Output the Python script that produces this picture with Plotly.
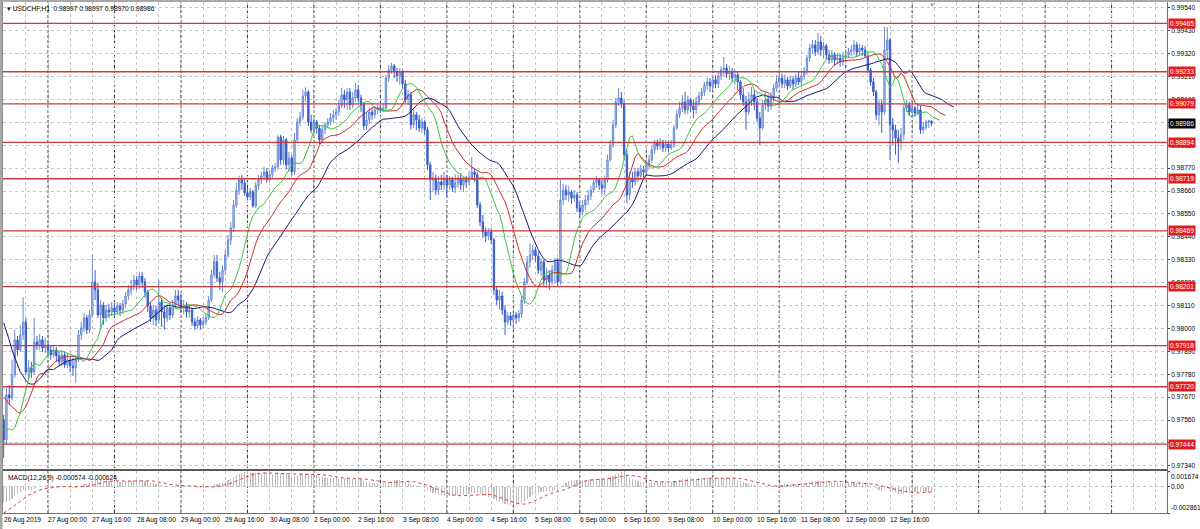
import plotly.graph_objects as go

SCALE = 1e5  # prices below are stored in points (1e-5)

# ---------------- time axis ----------------
x_label_bars = [0, 16, 32, 48, 64, 80, 96, 112, 128, 144, 160, 176, 192, 208, 224, 240, 256, 272, 288, 304, 320]
x_labels = ["26 Aug 2019", "27 Aug 00:00", "27 Aug 16:00", "28 Aug 08:00", "29 Aug 00:00", "29 Aug 16:00",
            "30 Aug 08:00", "2 Sep 00:00", "2 Sep 16:00", "3 Sep 08:00", "4 Sep 00:00", "4 Sep 16:00",
            "5 Sep 08:00", "6 Sep 00:00", "6 Sep 16:00", "9 Sep 08:00", "10 Sep 00:00", "10 Sep 16:00",
            "11 Sep 08:00", "12 Sep 00:00", "12 Sep 16:00"]
day_start_bars = [16, 40, 64, 88, 112, 136, 160, 184, 208, 232, 256, 280, 304, 328, 352, 376, 400]

# ---------------- price axis ----------------
price_ticks = [0.97340, 0.97450, 0.97560, 0.97670, 0.97780, 0.97890, 0.98000, 0.98110, 0.98220, 0.98330,
               0.98440, 0.98550, 0.98660, 0.98770, 0.98880, 0.98990, 0.99100, 0.99210, 0.99320, 0.99430, 0.99540]
level_lines = [0.99465, 0.99233, 0.99079, 0.98894, 0.98719, 0.98469, 0.98201, 0.97918, 0.97720, 0.97444]
current_price = 0.98986
macd_ticks = [-0.002861, 0.0, 0.001674]
macd_tick_text = ["-0.002861", "0.00", "0.001674"]

# ---------------- USDCHF H1 OHLC (points) ----------------
opens_pts = [
    97561, 97465, 97681, 97666, 97777, 97945, 97897, 97969, 98031, 97791, 97811, 97791, 97935, 97921, 97945, 97907,
    97921, 97897, 97873, 97897, 97868, 97839, 97873, 97825, 97849, 97820, 97811, 97849, 97969, 98003, 98051, 97993, 98065, 98224, 98185, 98065, 98113, 98051, 98089, 98079,
    98099, 98079, 98108, 98089, 98118, 98156, 98185, 98204, 98233, 98209, 98252, 98224, 98175, 98108, 98051, 98089, 98041, 98127, 98079, 98051, 98099, 98065, 98113, 98156,
    98137, 98099, 98113, 98079, 98089, 98031, 98012, 98041, 98017, 98031, 98051, 98137, 98257, 98320, 98243, 98224, 98281, 98353, 98425, 98483, 98593, 98665, 98714, 98699,
    98651, 98632, 98656, 98589, 98685, 98714, 98733, 98752, 98714, 98738, 98771, 98776, 98920, 98810, 98906, 98786, 98819, 98752, 98906, 98992, 99016, 99117, 99136, 98992,
    98954, 98992, 98963, 98906, 98954, 98978, 98992, 99011, 99026, 99040, 99069, 99122, 99098, 99136, 99074, 99107, 99146, 99107, 99074, 98973, 99002, 99040, 99026, 99050,
    99059, 99050, 99059, 99203, 99242, 99261, 99232, 99213, 99232, 99175, 99098, 99122, 98978, 99026, 99002, 98963, 98992, 98954, 98786, 98714, 98723, 98665, 98704, 98689,
    98723, 98689, 98714, 98675, 98699, 98723, 98689, 98714, 98704, 98723, 98752, 98738, 98593, 98512, 98464, 98444, 98464, 98425, 98185, 98137, 98156, 98089, 98031, 98060,
    98041, 98065, 98051, 98070, 98137, 98224, 98320, 98353, 98377, 98348, 98281, 98320, 98233, 98257, 98224, 98281, 98320, 98224, 98617, 98665, 98641, 98656, 98627, 98641,
    98579, 98560, 98593, 98617, 98637, 98665, 98699, 98714, 98689, 98675, 98714, 98810, 98882, 98978, 99088, 99107, 99079, 98834, 98641, 98723, 98704, 98752, 98733, 98762,
    98752, 98786, 98810, 98858, 98891, 98877, 98896, 98867, 98886, 98867, 98882, 98963, 99026, 99059, 99088, 99050, 99098, 99069, 99050, 99088, 99117, 99136, 99170, 99184,
    99165, 99194, 99175, 99213, 99242, 99251, 99223, 99232, 99203, 99218, 99184, 99122, 99088, 99040, 99098, 99122, 99088, 99011, 98963, 99074, 99098, 99069, 99107, 99155,
    99184, 99203, 99175, 99194, 99165, 99194, 99175, 99203, 99184, 99213, 99232, 99299, 99347, 99362, 99328, 99376, 99338, 99357, 99314, 99290, 99314, 99290, 99299, 99280,
    99299, 99314, 99328, 99338, 99362, 99328, 99347, 99338, 99309, 99242, 99184, 99136, 99026, 99074, 99040, 99338, 99386, 98978, 98954, 98915, 98896, 98930, 99059, 99074,
    99040, 99059, 99035, 99050, 98954, 98968, 98992, 98997,
]
highs_pts = [
    97585, 97714, 97729, 97849, 97993, 97964, 98017, 98151, 98051, 97849, 97839, 98051, 97964, 97974, 97964, 97955,
    97935, 97916, 97921, 97911, 97887, 97897, 97887, 97878, 97868, 97859, 97873, 97993, 98031, 98075, 98065, 98089, 98353, 98281, 98219, 98137, 98127, 98113, 98118, 98127,
    98123, 98127, 98123, 98137, 98175, 98209, 98233, 98257, 98252, 98272, 98272, 98243, 98185, 98127, 98113, 98108, 98233, 98147, 98113, 98118, 98123, 98137, 98185, 98185,
    98166, 98137, 98127, 98113, 98099, 98051, 98060, 98051, 98055, 98070, 98156, 98281, 98353, 98353, 98272, 98305, 98377, 98449, 98512, 98617, 98699, 98733, 98738, 98723,
    98675, 98675, 98665, 98704, 98738, 98752, 98776, 98771, 98762, 98786, 98795, 98930, 98930, 98925, 98915, 98848, 98834, 98939, 99011, 99040, 99146, 99160, 99146, 99026,
    99011, 99002, 98978, 98973, 98992, 99011, 99035, 99050, 99059, 99098, 99155, 99146, 99155, 99155, 99136, 99179, 99170, 99122, 99088, 99040, 99059, 99059, 99069, 99074,
    99074, 99079, 99218, 99266, 99275, 99271, 99251, 99251, 99242, 99194, 99146, 99136, 99050, 99040, 99026, 99011, 99002, 98968, 98800, 98752, 98738, 98733, 98738, 98752,
    98738, 98733, 98728, 98742, 98738, 98747, 98728, 98733, 98752, 98824, 98771, 98752, 98608, 98545, 98483, 98483, 98483, 98435, 98204, 98185, 98175, 98113, 98079, 98079,
    98079, 98079, 98089, 98156, 98243, 98348, 98411, 98401, 98392, 98368, 98339, 98329, 98291, 98281, 98305, 98339, 98339, 98714, 98694, 98689, 98685, 98665, 98665, 98656,
    98608, 98617, 98641, 98665, 98685, 98714, 98733, 98723, 98714, 98733, 98834, 98906, 99002, 99107, 99155, 99136, 99098, 98858, 98752, 98752, 98771, 98771, 98786, 98781,
    98810, 98834, 98877, 98906, 98906, 98915, 98906, 98906, 98901, 98906, 98978, 99050, 99088, 99122, 99136, 99117, 99107, 99098, 99112, 99136, 99155, 99184, 99203, 99203,
    99213, 99218, 99232, 99261, 99304, 99271, 99261, 99251, 99242, 99232, 99194, 99155, 99117, 99136, 99160, 99146, 99107, 99040, 99098, 99131, 99122, 99136, 99175, 99218,
    99232, 99223, 99218, 99208, 99213, 99213, 99223, 99232, 99232, 99256, 99314, 99367, 99386, 99386, 99420, 99405, 99376, 99367, 99338, 99338, 99328, 99323, 99319, 99328,
    99338, 99347, 99362, 99386, 99376, 99367, 99362, 99357, 99319, 99251, 99203, 99146, 99098, 99098, 99448, 99448, 99395, 99011, 98978, 98954, 98963, 99079, 99098, 99088,
    99079, 99069, 99079, 99069, 98992, 99002, 99002, 98997,
]
lows_pts = [
    97378, 97441, 97633, 97657, 97763, 97868, 97887, 97945, 97777, 97753, 97763, 97782, 97897, 97897, 97887, 97883,
    97868, 97849, 97859, 97839, 97820, 97820, 97811, 97811, 97791, 97772, 97739, 97839, 97945, 97983, 97974, 97979, 98051, 98137, 98051, 98003, 98017, 98031, 98051, 98060,
    98055, 98065, 98060, 98070, 98099, 98137, 98161, 98185, 98185, 98190, 98195, 98147, 98079, 98031, 98017, 98012, 98022, 98007, 97993, 98031, 98041, 98051, 98099, 98113,
    98079, 98070, 98051, 98051, 98012, 97993, 98003, 97993, 98003, 98017, 98041, 98127, 98243, 98224, 98185, 98175, 98257, 98339, 98401, 98464, 98579, 98641, 98665, 98637,
    98617, 98617, 98579, 98579, 98665, 98694, 98714, 98699, 98704, 98723, 98752, 98762, 98786, 98786, 98762, 98752, 98733, 98738, 98891, 98973, 99002, 99088, 98973, 98939,
    98930, 98934, 98886, 98896, 98934, 98963, 98978, 98992, 99002, 99021, 99059, 99059, 99050, 99050, 99059, 99088, 99083, 99040, 98954, 98954, 98982, 99002, 99011, 99030,
    99035, 99040, 99050, 99184, 99223, 99203, 99184, 99170, 99155, 99083, 99074, 98954, 98963, 98954, 98944, 98939, 98930, 98762, 98617, 98656, 98641, 98641, 98665, 98665,
    98632, 98665, 98656, 98651, 98675, 98665, 98656, 98675, 98685, 98714, 98704, 98579, 98492, 98435, 98416, 98425, 98406, 98161, 98113, 98089, 98065, 97969, 98017, 98012,
    97993, 98022, 98031, 98051, 98118, 98209, 98291, 98329, 98320, 98262, 98252, 98204, 98195, 98185, 98209, 98214, 98200, 98209, 98593, 98617, 98608, 98598, 98608, 98560,
    98545, 98545, 98569, 98593, 98617, 98651, 98675, 98665, 98646, 98641, 98699, 98800, 98867, 98963, 99069, 99059, 98810, 98603, 98617, 98675, 98685, 98704, 98714, 98723,
    98733, 98762, 98795, 98838, 98858, 98858, 98848, 98848, 98848, 98858, 98867, 98954, 99011, 99040, 99030, 99030, 99040, 99011, 99030, 99069, 99098, 99117, 99146, 99136,
    99146, 99155, 99155, 99194, 99213, 99203, 99194, 99184, 99170, 99146, 99098, 99069, 98954, 99026, 99069, 99050, 98992, 98882, 98954, 99050, 99040, 99050, 99088, 99136,
    99165, 99155, 99155, 99146, 99155, 99146, 99160, 99170, 99165, 99194, 99218, 99280, 99319, 99309, 99314, 99309, 99299, 99290, 99271, 99275, 99261, 99271, 99256, 99261,
    99280, 99299, 99309, 99314, 99304, 99314, 99309, 99299, 99227, 99165, 99117, 99002, 98978, 98939, 99026, 99290, 98810, 98882, 98834, 98795, 98858, 98906, 99040, 99021,
    99021, 99016, 99026, 98934, 98934, 98954, 98963, 98970,
]
closes_pts = [
    97465, 97681, 97666, 97777, 97945, 97897, 97969, 98031, 97791, 97811, 97791, 97935, 97921, 97945, 97907, 97921,
    97897, 97873, 97897, 97868, 97839, 97873, 97825, 97849, 97820, 97811, 97849, 97969, 98003, 98051, 97993, 98065, 98224, 98185, 98065, 98113, 98051, 98089, 98079, 98099,
    98079, 98108, 98089, 98118, 98156, 98185, 98204, 98233, 98209, 98252, 98224, 98175, 98108, 98051, 98089, 98041, 98127, 98079, 98051, 98099, 98065, 98113, 98156, 98137,
    98099, 98113, 98079, 98089, 98031, 98012, 98041, 98017, 98031, 98051, 98137, 98257, 98320, 98243, 98224, 98281, 98353, 98425, 98483, 98593, 98665, 98714, 98699, 98651,
    98632, 98656, 98589, 98685, 98714, 98733, 98752, 98714, 98738, 98771, 98776, 98920, 98810, 98906, 98786, 98819, 98752, 98906, 98992, 99016, 99117, 99136, 98992, 98954,
    98992, 98963, 98906, 98954, 98978, 98992, 99011, 99026, 99040, 99069, 99122, 99098, 99136, 99074, 99107, 99146, 99107, 99074, 98973, 99002, 99040, 99026, 99050, 99059,
    99050, 99059, 99203, 99242, 99261, 99232, 99213, 99232, 99175, 99098, 99122, 98978, 99026, 99002, 98963, 98992, 98954, 98786, 98714, 98723, 98665, 98704, 98689, 98723,
    98689, 98714, 98675, 98699, 98723, 98689, 98714, 98704, 98723, 98752, 98738, 98593, 98512, 98464, 98444, 98464, 98425, 98185, 98137, 98156, 98089, 98031, 98060, 98041,
    98065, 98051, 98070, 98137, 98224, 98320, 98353, 98377, 98348, 98281, 98320, 98233, 98257, 98224, 98281, 98320, 98224, 98617, 98665, 98641, 98656, 98627, 98641, 98579,
    98560, 98593, 98617, 98637, 98665, 98699, 98714, 98689, 98675, 98714, 98810, 98882, 98978, 99088, 99107, 99079, 98834, 98641, 98723, 98704, 98752, 98733, 98762, 98752,
    98786, 98810, 98858, 98891, 98877, 98896, 98867, 98886, 98867, 98882, 98963, 99026, 99059, 99088, 99050, 99098, 99069, 99050, 99088, 99117, 99136, 99170, 99184, 99165,
    99194, 99175, 99213, 99242, 99251, 99223, 99232, 99203, 99218, 99184, 99122, 99088, 99040, 99098, 99122, 99088, 99011, 98963, 99074, 99098, 99069, 99107, 99155, 99184,
    99203, 99175, 99194, 99165, 99194, 99175, 99203, 99184, 99213, 99232, 99299, 99347, 99362, 99328, 99376, 99338, 99357, 99314, 99290, 99314, 99290, 99299, 99280, 99299,
    99314, 99328, 99338, 99362, 99328, 99347, 99338, 99309, 99242, 99184, 99136, 99026, 99074, 99040, 99338, 99386, 98978, 98954, 98915, 98896, 98930, 99059, 99074, 99040,
    99059, 99035, 99050, 98954, 98968, 98992, 98997, 98986,
]

# Alligator values visible before the first bar's own calculation
jaw_pre_pts = [98027, 97988, 97945, 97897, 97859, 97825, 97791, 97772]
teeth_pre_pts = [97671, 97652, 97638, 97623, 97614]
lips_pre_pts = [97513, 97513, 97518]
# MACD state carried in from bars left of the visible window
ema12_seed = 0.97730
ema26_seed = 0.97900
macd_pre = [-0.00335, -0.00330, -0.00320, -0.00310, -0.00300, -0.00285, -0.00270, -0.00250]

n = len(closes_pts)
assert len(opens_pts) == n and len(highs_pts) == n and len(lows_pts) == n, (len(opens_pts), len(highs_pts), len(lows_pts), n)

bars = list(range(n))
O = [v / SCALE for v in opens_pts]
Hh = [v / SCALE for v in highs_pts]
L = [v / SCALE for v in lows_pts]
C = [v / SCALE for v in closes_pts]

# ---- Alligator (SMMA of median price, shifted) ----
median = [(h + l) / 2 for h, l in zip(Hh, L)]


def smma(pre_pts, period):
    vals = [p / SCALE for p in pre_pts]
    prev = vals[-1]
    for m in median:
        prev = (prev * (period - 1) + m) / period
        vals.append(prev)
    return vals


jaw = smma(jaw_pre_pts, 13)     # shift 8
teeth = smma(teeth_pre_pts, 8)  # shift 5
lips = smma(lips_pre_pts, 5)    # shift 3

# ---- MACD(12,26,9) ----


def ema(vals, period, seed):
    a = 2.0 / (period + 1)
    out, prev = [], seed
    for v in vals:
        prev = prev + a * (v - prev)
        out.append(prev)
    return out


e12 = ema(C, 12, ema12_seed)
e26 = ema(C, 26, ema26_seed)
macd_main = [a - b for a, b in zip(e12, e26)]
allm = macd_pre + macd_main
signal = [sum(allm[i:i + 9]) / 9 for i in range(n)]

FONT = "Liberation Sans"
FS = 6.6

fig = go.Figure()
fig.add_trace(go.Candlestick(
    x=bars, open=O, high=Hh, low=L, close=C, xaxis="x", yaxis="y",
    increasing=dict(line=dict(color="#6a8ad6", width=1), fillcolor="#bccde9"),
    decreasing=dict(line=dict(color="#3a5ccc", width=1), fillcolor="#3a5ccc"),
    whiskerwidth=0, hoverinfo="skip", showlegend=False))
fig.add_trace(go.Scatter(x=list(range(len(jaw))), y=jaw, mode="lines", line=dict(color="#1a1a78", width=1),
                         xaxis="x", yaxis="y", hoverinfo="skip"))
fig.add_trace(go.Scatter(x=list(range(len(teeth))), y=teeth, mode="lines", line=dict(color="#cc3030", width=1),
                         xaxis="x", yaxis="y", hoverinfo="skip"))
fig.add_trace(go.Scatter(x=list(range(len(lips))), y=lips, mode="lines", line=dict(color="#3cc43c", width=1),
                         xaxis="x", yaxis="y", hoverinfo="skip"))
fig.add_trace(go.Bar(x=bars, y=macd_main, width=0.4, marker=dict(color="#bdbdbd", line=dict(width=0)),
                     xaxis="x2", yaxis="y2", hoverinfo="skip"))
fig.add_trace(go.Scatter(x=bars, y=signal, mode="lines", line=dict(color="#d83a3a", width=1, dash="dot"),
                         xaxis="x2", yaxis="y2", hoverinfo="skip"))

PLOT_H = 529 - 2 - 16
main_bottom = (513 - 469) / PLOT_H
macd_top = (513 - 471) / PLOT_H
XR = [-0.25, 420.0]

grid = dict(showgrid=True, gridcolor="#c4c4c4", griddash="3px,3px", gridwidth=1)
fig.update_layout(
    width=1200, height=529, margin=dict(l=3, r=33, t=2, b=16),
    paper_bgcolor="white", plot_bgcolor="white", showlegend=False,
    font=dict(family=FONT, size=FS, color="black"), bargap=0,
    xaxis=dict(domain=[0, 1], range=XR, anchor="y", showticklabels=False, tickmode="linear", tick0=0, dtick=8,
               ticks="", zeroline=False, showline=True, mirror=True, linecolor="#707070",
               rangeslider=dict(visible=False), **grid),
    xaxis2=dict(domain=[0, 1], range=XR, anchor="y2", matches="x", showticklabels=False, tickmode="linear",
                tick0=0, dtick=8, ticks="", zeroline=False, showline=True, mirror=True, linecolor="#707070", **grid),
    yaxis=dict(domain=[main_bottom, 1], range=[0.97325, 0.99568], side="right", tickmode="array",
               tickvals=price_ticks, tickformat=".5f", ticks="outside", ticklen=2, tickcolor="#404040",
               tickfont=dict(size=FS, family=FONT), zeroline=False, showline=True, mirror=True,
               linecolor="#707070", anchor="x", **grid),
    yaxis2=dict(domain=[0, macd_top], range=[macd_ticks[0], macd_ticks[-1]], side="right", tickmode="array",
                tickvals=macd_ticks, showticklabels=False, ticks="outside", ticklen=2, tickcolor="#404040",
                zeroline=False, showline=True, mirror=True, linecolor="#707070", anchor="x2", **grid),
)

shapes = []
for lv in level_lines:
    shapes.append(dict(type="line", xref="paper", x0=0, x1=1, yref="y", y0=lv, y1=lv,
                       line=dict(color="#cc3a3a", width=1.3), layer="above"))
for b in day_start_bars:
    shapes.append(dict(type="line", xref="x", x0=b, x1=b, yref="paper", y0=0, y1=1,
                       line=dict(color="#303030", width=1, dash="3px,2px"), layer="below"))
# panel separator
shapes.append(dict(type="rect", xref="paper", x0=0, x1=1, yref="paper", y0=macd_top, y1=main_bottom,
                   fillcolor="#5a5a5a", line=dict(width=0)))
# window frame (left & top)
shapes.append(dict(type="rect", xref="paper", x0=-3 / 1164, x1=-0.5 / 1164, yref="paper", y0=-16 / PLOT_H,
                   y1=1 + 2 / PLOT_H, fillcolor="#a8a8a8", line=dict(width=0)))
shapes.append(dict(type="rect", xref="paper", x0=-3 / 1164, x1=1 + 33 / 1164, yref="paper", y0=1,
                   y1=1 + 2 / PLOT_H, fillcolor="#a8a8a8", line=dict(width=0)))
fig.update_layout(shapes=shapes)

ann = []
# time labels
for b, t in zip(x_label_bars, x_labels):
    ann.append(dict(x=b, xref="x", y=0, yref="paper", yanchor="top", xanchor="left", text=t, showarrow=False,
                    xshift=-2, yshift=-1, font=dict(size=FS, family=FONT, color="black")))
# level labels
for lv in level_lines:
    ann.append(dict(x=1, xref="paper", y=lv, yref="y", xanchor="left", yanchor="middle",
                    text=f"{lv:.5f}", showarrow=False, bgcolor="#e21c1c", borderpad=1, xshift=1,
                    font=dict(size=FS, family=FONT, color="white")))
ann.append(dict(x=1, xref="paper", y=current_price, yref="y", xanchor="left", yanchor="middle",
                text=f"{current_price:.5f}", showarrow=False, bgcolor="#000000", borderpad=1, xshift=1,
                font=dict(size=FS, family=FONT, color="white")))
# MACD axis labels
for v, t, ya in zip(macd_ticks, macd_tick_text, ["bottom", "middle", "top"]):
    ann.append(dict(x=1, xref="paper", y=v, yref="y2", xanchor="left", yanchor=ya, text=t, showarrow=False,
                    xshift=2, font=dict(size=FS, family=FONT, color="black")))
# chart title & indicator caption
ann.append(dict(x=0, xref="paper", y=1, yref="paper", xanchor="left", yanchor="top", xshift=2, yshift=-1,
                text="\u25be USDCHF,H1  0.98997 0.98997 0.98970 0.98986", showarrow=False,
                font=dict(size=FS, family=FONT, color="black")))
ann.append(dict(x=0, xref="paper", y=macd_top, yref="paper", xanchor="left", yanchor="top", xshift=3,
                yshift=-1, text="MACD(12,26,9) -0.000574 -0.000624", showarrow=False,
                font=dict(size=FS, family=FONT, color="black")))
ann.append(dict(x=n - 1, xref="x", y=1, yref="paper", xanchor="center", yanchor="top", yshift=2,
                text="\u25bc", showarrow=False, font=dict(size=6, color="#9a9a9a")))
fig.update_layout(annotations=ann)

fig.write_html("out.html", config={"displayModeBar": False, "staticPlot": True},
               post_script="document.body.style.margin='0px';document.body.style.overflow='hidden';")
